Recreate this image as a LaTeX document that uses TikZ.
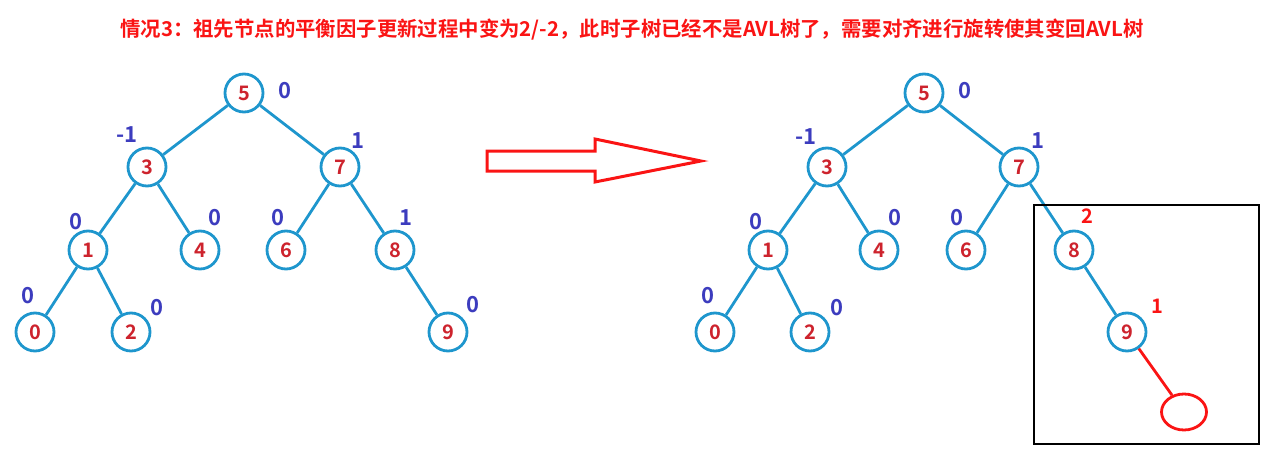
\documentclass[tikz,border=0pt]{standalone}
\usepackage{fontspec}
\usetikzlibrary{shapes.geometric}
\setmainfont{Noto Sans CJK SC}[BoldFont={Noto Sans CJK SC Bold}]
\definecolor{nodeblue}{RGB}{30,150,205}
\definecolor{numred}{RGB}{205,35,45}
\definecolor{lblblue}{RGB}{60,60,190}
\definecolor{titlered}{RGB}{250,20,20}
\tikzset{
  tnode/.style={circle, draw=nodeblue, line width=2.8pt, minimum size=38pt, inner sep=0pt,
    text=numred, font=\bfseries\fontsize{20}{20}\selectfont},
  tedge/.style={draw=nodeblue, line width=2.8pt},
  bl/.style={text=lblblue, font=\bfseries\fontsize{22}{22}\selectfont, inner sep=0pt},
  rl/.style={text=titlered, font=\bfseries\fontsize{20}{20}\selectfont, inner sep=0pt},
}
\begin{document}
\begin{tikzpicture}[x=1pt,y=-1pt]
\useasboundingbox (0,0) rectangle (1275,463);
\node[text=titlered, font=\bfseries\fontsize{20.4}{20.4}\selectfont, inner sep=0pt] (title) at (632,30)
  {情况3：祖先节点的平衡因子更新过程中变为2/-2，此时子树已经不是AVL树了，需要对齐进行旋转使其变回AVL树};
% left tree
\node[tnode] (L5) at (244,93) {5};
\node[tnode] (L3) at (147,167) {3};
\node[tnode] (L7) at (340,167) {7};
\node[tnode] (L1) at (88,250) {1};
\node[tnode] (L4) at (200,250) {4};
\node[tnode] (L6) at (286,250) {6};
\node[tnode] (L8) at (395,250) {8};
\node[tnode] (L0) at (35,332) {0};
\node[tnode] (L2) at (131,332) {2};
\node[tnode] (L9) at (448,332) {9};
\foreach \a/\b in {L5/L3,L5/L7,L3/L1,L3/L4,L7/L6,L7/L8,L1/L0,L1/L2,L8/L9}
  \draw[tedge] (\a) -- (\b);
\node[bl] (lb5) at (285,91) {0};
\node[bl] (lb3) at (127,135) {-1};
\node[bl] (lb7) at (358,141) {1};
\node[bl] (lb1) at (76,222) {0};
\node[bl] (lb4) at (215,218) {0};
\node[bl] (lb6) at (278,218) {0};
\node[bl] (lb8) at (406,218) {1};
\node[bl] (lb0) at (28,296) {0};
\node[bl] (lb2) at (157,308) {0};
\node[bl] (lb9) at (473,305) {0};
% arrow
\draw[titlered, line width=3pt, line join=miter] (487,151) -- (595,151) -- (595,139) -- (701,161) -- (595,182) -- (595,171) -- (487,171) -- cycle;
% right tree
\node[tnode] (R5) at (924,93) {5};
\node[tnode] (R3) at (827,167) {3};
\node[tnode] (R7) at (1019,167) {7};
\node[tnode] (R1) at (768,250) {1};
\node[tnode] (R4) at (879,250) {4};
\node[tnode] (R6) at (966,250) {6};
\node[tnode] (R8) at (1074,250) {8};
\node[tnode] (R0) at (715,332) {0};
\node[tnode] (R2) at (810,332) {2};
\node[tnode] (R9) at (1127,332) {9};
\foreach \a/\b in {R5/R3,R5/R7,R3/R1,R3/R4,R7/R6,R7/R8,R1/R0,R1/R2,R8/R9}
  \draw[tedge] (\a) -- (\b);
\node[ellipse, draw=titlered, line width=2.8pt, minimum width=45pt, minimum height=36pt, inner sep=0pt] (RN) at (1184,412) {};
\draw[titlered, line width=2.8pt] (R9) -- (RN);
\node[bl] (rb5) at (965,91) {0};
\node[bl] (rb3) at (806,137) {-1};
\node[bl] (rb7) at (1038,141) {1};
\node[bl] (rb1) at (756,222) {0};
\node[bl] (rb4) at (895,218) {0};
\node[bl] (rb6) at (957,218) {0};
\node[bl] (rb0) at (708,296) {0};
\node[bl] (rb2) at (837,308) {0};
\node[rl] (rb8) at (1087,216) {2};
\node[rl] (rb9) at (1157,306) {1};
\draw[black, line width=1.3pt] (1034,205) rectangle (1259,444);
\end{tikzpicture}
\end{document}
